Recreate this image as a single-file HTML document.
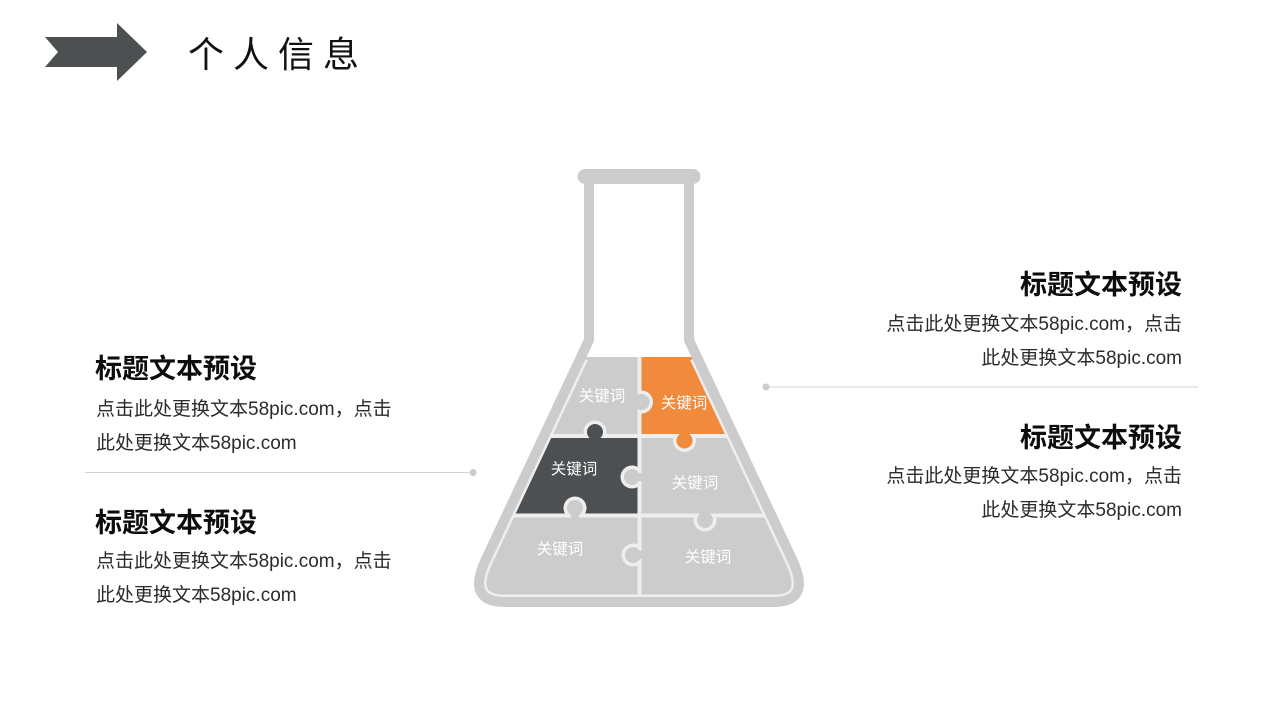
<!DOCTYPE html>
<html>
<head>
<meta charset="utf-8">
<style>
  html,body{margin:0;padding:0;background:#fff;}
  body{width:1280px;height:720px;position:relative;overflow:hidden;
       font-family:"Liberation Sans","Noto Sans CJK SC",sans-serif;}
  .abs{position:absolute;white-space:nowrap;}
  .h1{font-size:36px;line-height:40px;letter-spacing:9px;color:#111;font-family:"Noto Sans CJK SC","Liberation Sans",sans-serif;}
  .t{font-size:27px;line-height:36px;font-weight:bold;color:#0d0d0d;font-family:"Noto Sans CJK SC","Liberation Sans",sans-serif;}
  .b{font-size:19px;line-height:34px;color:#2b2b2b;font-family:"Liberation Sans","Noto Sans CJK SC",sans-serif;}
  .r{text-align:right;}
</style>
</head>
<body>
<svg class="abs" style="left:0;top:0" width="1280" height="720" viewBox="0 0 1280 720">
  <defs>
    <clipPath id="liq">
      <path d="M581,357 L485.6,560 Q466,602 505,602 L773,602 Q812,602 792.4,560 L697,357 Z"/>
    </clipPath>
  </defs>

  <!-- header arrow -->
  <polygon points="45,37 117,37 117,23 147,52 117,81 117,67 45,67 58,52" fill="#4d5051"/>

  <!-- separators -->
  <line x1="766" y1="387" x2="1198" y2="387" stroke="#d2d2d2" stroke-width="1"/>
  <circle cx="766" cy="387" r="3.5" fill="#cccccc"/>
  <line x1="85" y1="472.5" x2="473" y2="472.5" stroke="#d2d2d2" stroke-width="1"/>
  <circle cx="473" cy="472.5" r="3.5" fill="#cccccc"/>

  <!-- liquid / puzzle -->
  <g clip-path="url(#liq)">
    <rect x="460" y="350" width="360" height="270" fill="#cccccc"/>
    <rect x="639.5" y="350" width="180" height="86" fill="#f08a3c"/>
    <rect x="460" y="436" width="179.5" height="79.5" fill="#4d5052"/>
    <!-- separator lines -->
    <rect x="637.5" y="350" width="4" height="270" fill="#eeeeee"/>
    <rect x="460" y="434" width="360" height="4" fill="#eeeeee"/>
    <rect x="460" y="513.5" width="360" height="4" fill="#eeeeee"/>

    <!-- K1 row1-left -> orange -->
    <circle cx="641.5" cy="402" r="11.5" fill="#eeeeee"/>
    <rect x="626" y="389" width="11.5" height="26" fill="#cccccc"/>
    <circle cx="641.5" cy="402" r="8" fill="#cccccc"/>
    <!-- K2 dark -> up -->
    <circle cx="595" cy="432" r="11.5" fill="#eeeeee"/>
    <rect x="582" y="438" width="26" height="7" fill="#4d5052"/>
    <circle cx="595" cy="432" r="8" fill="#4d5052"/>
    <rect x="591" y="434" width="8" height="5" fill="#4d5052"/>
    <!-- K3 orange -> down -->
    <circle cx="684.5" cy="440.5" r="11.5" fill="#eeeeee"/>
    <rect x="671" y="426" width="27" height="8" fill="#f08a3c"/>
    <circle cx="684.5" cy="440.5" r="8" fill="#f08a3c"/>
    <rect x="680.5" y="433" width="8" height="5" fill="#f08a3c"/>
    <!-- K4 row2-right -> left into dark -->
    <circle cx="632" cy="477" r="11.5" fill="#eeeeee"/>
    <rect x="641.5" y="464" width="5" height="26" fill="#cccccc"/>
    <circle cx="632" cy="477" r="8" fill="#cccccc"/>
    <rect x="636" y="473" width="6.5" height="8" fill="#cccccc"/>
    <!-- K5 row3-left -> up into dark -->
    <circle cx="575" cy="508" r="11.5" fill="#eeeeee"/>
    <rect x="562" y="517.5" width="26" height="5" fill="#cccccc"/>
    <circle cx="575" cy="508" r="8" fill="#cccccc"/>
    <rect x="571" y="512" width="8" height="6.5" fill="#cccccc"/>
    <!-- K6 row3-right -> left -->
    <circle cx="633" cy="555" r="11.5" fill="#eeeeee"/>
    <rect x="641.5" y="542" width="5" height="26" fill="#cccccc"/>
    <circle cx="633" cy="555" r="8" fill="#cccccc"/>
    <rect x="637" y="551" width="5.5" height="8" fill="#cccccc"/>
    <!-- K7 row2-right -> down -->
    <circle cx="705" cy="520" r="11.5" fill="#eeeeee"/>
    <rect x="692" y="505" width="26" height="8.5" fill="#cccccc"/>
    <circle cx="705" cy="520" r="8" fill="#cccccc"/>
    <rect x="701" y="512" width="8" height="6" fill="#cccccc"/>

    <!-- inner light gap along flask wall -->
    <path d="M581,357 L485.6,560 Q466,602 505,602 L773,602 Q812,602 792.4,560 L697,357" fill="none" stroke="#eeeeee" stroke-width="15"/>
  </g>

  <!-- flask outline -->
  <path d="M589,180 L589,340 L485.6,560 Q466,602 505,602 L773,602 Q812,602 792.4,560 L689,340 L689,180"
        fill="none" stroke="#cccccc" stroke-width="10" stroke-linejoin="round"/>
  <rect x="577.5" y="169" width="123" height="15" rx="7.5" ry="7.5" fill="#cccccc"/>

  <!-- puzzle labels -->
  <g font-family="Noto Sans CJK SC, Liberation Sans, sans-serif" font-size="15.5" fill="#ffffff" text-anchor="middle" dominant-baseline="central">
    <text x="602" y="395">关键词</text>
    <text x="684" y="402">关键词</text>
    <text x="574" y="468">关键词</text>
    <text x="695" y="482">关键词</text>
    <text x="560" y="548">关键词</text>
    <text x="708" y="556">关键词</text>
  </g>
</svg>

<div class="abs h1" style="left:188px;top:32px;">个人信息</div>

<!-- left blocks -->
<div class="abs t" style="left:95px;top:349px;">标题文本预设</div>
<div class="abs b" style="left:96px;top:393px;">点击此处更换文本58pic.com，点击<br>此处更换文本58pic.com</div>

<div class="abs t" style="left:95px;top:503px;">标题文本预设</div>
<div class="abs b" style="left:96px;top:545px;">点击此处更换文本58pic.com，点击<br>此处更换文本58pic.com</div>

<!-- right blocks -->
<div class="abs t r" style="right:98px;top:265px;">标题文本预设</div>
<div class="abs b r" style="right:98px;top:308px;">点击此处更换文本58pic.com，点击<br>此处更换文本58pic.com</div>

<div class="abs t r" style="right:98px;top:418px;">标题文本预设</div>
<div class="abs b r" style="right:98px;top:460px;">点击此处更换文本58pic.com，点击<br>此处更换文本58pic.com</div>
</body>
</html>
